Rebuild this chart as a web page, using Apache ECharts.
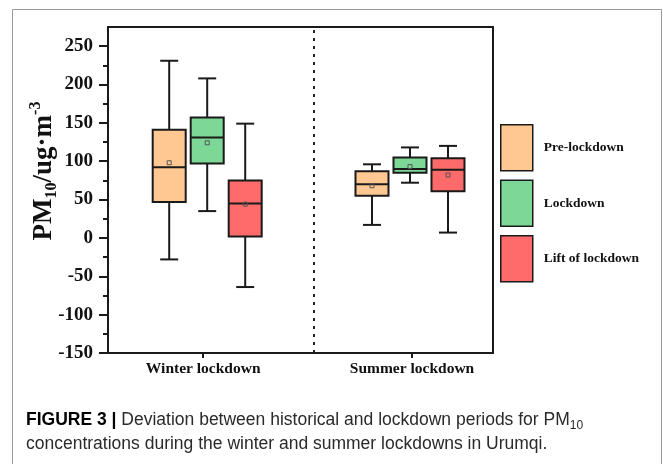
<!DOCTYPE html>
<html><head><meta charset="utf-8">
<script src="https://cdn.jsdelivr.net/npm/echarts@6/dist/echarts.min.js"></script>
<style>html,body{margin:0;padding:0;background:#fff;}#c{width:663px;height:464px;}</style>
</head><body><div id="c"></div>
<script>
const categories = ['Winter lockdown', 'Summer lockdown'];
const seriesNames = ['Pre-lockdown', 'Lockdown', 'Lift of lockdown'];
// [min, Q1, median, Q3, max, mean] per category
const preLockdown = [[-28, 47, 92, 141, 231, 98], [17, 55, 70, 87, 96, 68]];
const lockdown = [[35, 97, 131, 157, 208, 124], [72, 85, 90, 105, 118, 93]];
const liftOfLockdown = [[-64, 2, 45, 75, 149, 44], [7, 61, 89, 104, 120, 82]];
const yTicks = [-150, -100, -50, 0, 50, 100, 150, 200, 250];
const yMinorTicks = [-125, -75, -25, 25, 75, 125, 175, 225];
const dividerAt = 1.526;

const colors = ['#FFC892', '#7DD897', '#FF6A6A'];
const boxOffsets = [-38, 0, 38];
const groupShift = [4, -2];
const boxW = 33, capW = 18;
const INK = '#1a1a1a';
const serif = '"Liberation Serif", "Times New Roman", serif';
const sans = '"Liberation Sans", Arial, sans-serif';

function renderItem(params, api) {
  const xv = api.value(0);
  const si = params.seriesIndex;
  const cx = api.coord([xv, 0])[0] + boxOffsets[si] + groupShift[xv - 1];
  const y = [1, 2, 3, 4, 5, 6].map(i => api.coord([xv, api.value(i)])[1]);
  const [yMin, yQ1, yMed, yQ3, yMax, yMean] = y;
  const ls = {stroke: INK, lineWidth: 2, fill: null};
  return {
    type: 'group',
    children: [
      {type: 'line', shape: {x1: cx, y1: yMin, x2: cx, y2: yQ1}, style: ls},
      {type: 'line', shape: {x1: cx, y1: yQ3, x2: cx, y2: yMax}, style: ls},
      {type: 'line', shape: {x1: cx - capW / 2, y1: yMin, x2: cx + capW / 2, y2: yMin}, style: ls},
      {type: 'line', shape: {x1: cx - capW / 2, y1: yMax, x2: cx + capW / 2, y2: yMax}, style: ls},
      {type: 'rect', shape: {x: cx - boxW / 2, y: yQ3, width: boxW, height: yQ1 - yQ3},
        style: {fill: colors[si], stroke: INK, lineWidth: 2}},
      {type: 'line', shape: {x1: cx - boxW / 2, y1: yMed, x2: cx + boxW / 2, y2: yMed}, style: ls},
      {type: 'rect', shape: {x: cx - 2, y: yMean - 2, width: 4, height: 4},
        style: {fill: null, stroke: '#555', lineWidth: 1}}
    ]
  };
}

const groups = [preLockdown, lockdown, liftOfLockdown];
const series = groups.map((g, si) => ({
  name: seriesNames[si],
  type: 'custom',
  renderItem: renderItem,
  itemStyle: {color: colors[si]},
  encode: {x: 0, y: [1, 2, 3, 4, 5]},
  data: g.map((d, i) => [i + 1].concat(d)),
  markLine: si === 0 ? {
    silent: true, symbol: 'none', label: {show: false},
    lineStyle: {type: [3, 5], color: '#222', width: 2},
    data: [{xAxis: dividerAt}]
  } : undefined
}));

const chart = echarts.init(document.getElementById('c'), null, {renderer: 'canvas'});
chart.setOption({
  animation: false,
  color: colors,
  title: {
    left: 26, top: 408, padding: 0,
    text: '{b|FIGURE 3 |} Deviation between historical and lockdown periods for PM{s|10}\nconcentrations during the winter and summer lockdowns in Urumqi.',
    textStyle: {
      fontFamily: sans, fontSize: 17.5, fontWeight: 'normal',
      color: '#2a2a2a', lineHeight: 24,
      rich: {
        b: {fontFamily: sans, fontSize: 17.5, fontWeight: 'bold', color: '#000', lineHeight: 24},
        s: {fontFamily: sans, fontSize: 12, color: '#2a2a2a', verticalAlign: 'bottom', lineHeight: 19}
      }
    }
  },
  graphic: [
    {type: 'rect', shape: {x: 12.5, y: 9.5, width: 649, height: 480}, style: {fill: null, stroke: '#9a9a9a', lineWidth: 1}, silent: true}
  ],
  legend: {
    orient: 'vertical', left: 500, top: 124, padding: 0,
    itemWidth: 32, itemHeight: 46, itemGap: 8, icon: 'rect',
    data: seriesNames.map((n, i) => ({name: n, itemStyle: {color: colors[i], borderColor: INK, borderWidth: 1.5}})),
    textStyle: {fontFamily: serif, fontWeight: 'bold', fontSize: 13.5, color: '#111', padding: [0, 0, 0, 6]},
    selectedMode: false
  },
  grid: {left: 108, right: 170, top: 27, bottom: 111, show: true, borderColor: INK, borderWidth: 2, backgroundColor: 'transparent'},
  xAxis: {
    type: 'value', min: 0.544, max: 2.388,
    splitLine: {show: false},
    axisLine: {onZero: false, lineStyle: {color: INK, width: 2}},
    axisTick: {show: true, length: 5, lineStyle: {color: INK, width: 2}, customValues: [1, 2]},
    axisLabel: {customValues: [1, 2], formatter: v => categories[Math.round(v) - 1] || '',
      fontFamily: serif, fontWeight: 'bold', fontSize: 15.5, color: '#111', margin: 8}
  },
  yAxis: [{
    type: 'value', min: -150, max: 275,
    splitLine: {show: false},
    axisLine: {show: true, lineStyle: {color: INK, width: 2}},
    axisTick: {show: true, length: 9, lineStyle: {color: INK, width: 2}, customValues: yTicks},
    axisLabel: {customValues: yTicks, fontFamily: serif, fontWeight: 'bold', fontSize: 19, color: '#111', margin: 15},
    name: '{a|PM}{s|10}{a|/ug·m}{p|-3}',
    nameLocation: 'middle', nameRotate: 90, nameGap: 48, nameMoveOverlap: false,
    nameTextStyle: {
      fontFamily: serif, fontWeight: 'bold', fontSize: 27, color: '#111',
      padding: [0, 0, 0, 38],
      rich: {
        a: {fontFamily: serif, fontWeight: 'bold', fontSize: 27, color: '#111', lineHeight: 32},
        s: {fontFamily: serif, fontWeight: 'bold', fontSize: 16, color: '#111', verticalAlign: 'bottom', lineHeight: 26},
        p: {fontFamily: serif, fontWeight: 'bold', fontSize: 16, color: '#111', verticalAlign: 'top', lineHeight: 32}
      }
    }
  }, {
    type: 'value', min: -150, max: 275, position: 'left',
    splitLine: {show: false},
    axisLine: {show: false},
    axisTick: {show: true, length: 5, lineStyle: {color: INK, width: 2}, customValues: yMinorTicks},
    axisLabel: {show: false}
  }],
  series: series
});
</script></body></html>
